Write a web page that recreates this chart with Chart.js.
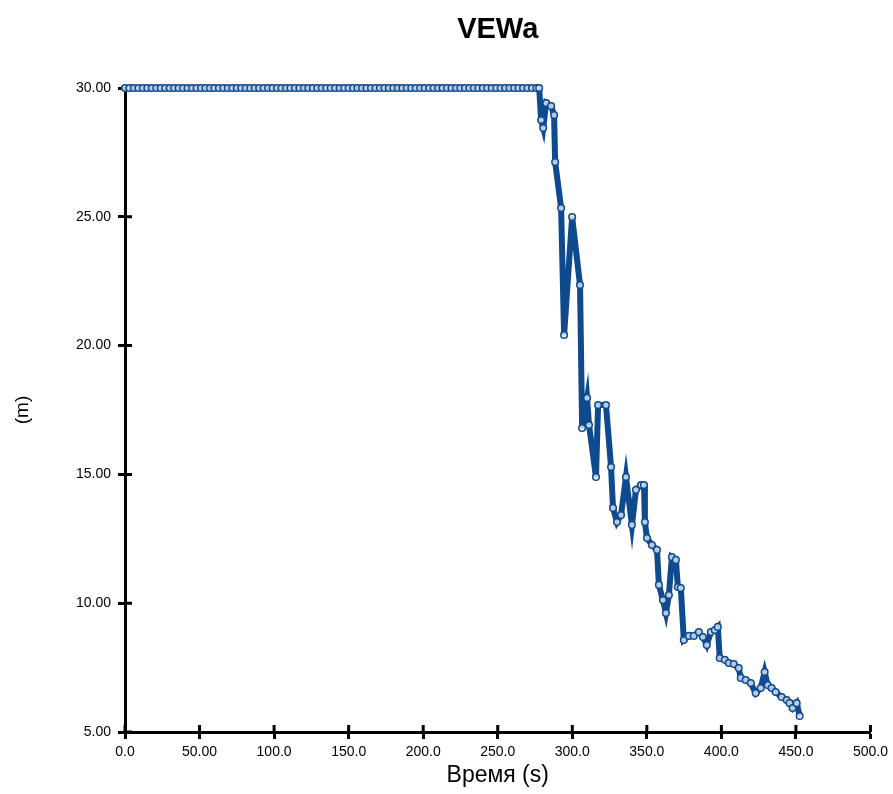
<!DOCTYPE html>
<html>
<head>
<meta charset="utf-8">
<script src="https://cdn.jsdelivr.net/npm/chart.js@4/dist/chart.umd.min.js"></script>
<style>
html,body{margin:0;padding:0;background:#fff;}
#wrap{width:893px;height:794px;}
</style>
</head>
<body>
<div id="wrap"><canvas id="c" width="893" height="794"></canvas></div>
<script>
// Time (s)
const times = [
  0,3,6,9,12,15,18,21,24,27,30,33,36,39,42,45,48,51,54,57,60,63,66,69,72,75,78,81,84,87,
  90,93,96,99,102,105,108,111,114,117,120,123,126,129,132,135,138,141,144,147,150,153,156,159,162,165,168,171,174,177,
  180,183,186,189,192,195,198,201,204,207,210,213,216,219,222,225,228,231,234,237,240,243,246,249,252,255,258,261,264,267,
  270,273,276,
  277.8,279.1,280.5,282.5,285.8,287.8,288.5,292.5,294.5,299.9,305.2,306.6,309.9,311.2,315.9,317.3,322.6,326.0,327.3,330.0,
  332.7,336.0,340.0,342.7,346.1,348.1,348.7,350.1,353.4,356.8,358.1,360.8,362.8,364.8,366.8,369.5,370.8,372.8,374.8,378.2,
  381.5,384.9,387.6,390.2,392.9,395.6,397.6,398.9,402.3,405.0,408.3,411.6,413.0,416.3,419.7,423.0,426.4,429.0,431.1,433.7,
  436.4,440.4,443.8,445.8,447.8,450.5,452.5
];
// Depth (m)
const depth = [
  30,30,30,30,30,30,30,30,30,30,30,30,30,30,30,30,30,30,30,30,30,30,30,30,30,30,30,30,30,30,
  30,30,30,30,30,30,30,30,30,30,30,30,30,30,30,30,30,30,30,30,30,30,30,30,30,30,30,30,30,30,
  30,30,30,30,30,30,30,30,30,30,30,30,30,30,30,30,30,30,30,30,30,30,30,30,30,30,30,30,30,30,
  30,30,30,
  30.0,28.76,28.45,29.42,29.30,28.95,27.13,25.34,20.41,24.99,22.35,16.80,17.97,16.92,14.90,17.69,17.69,15.29,13.70,13.15,
  13.42,14.9,13.04,14.4,14.59,14.59,13.15,12.53,12.26,12.07,10.71,10.12,9.62,10.32,11.79,11.68,10.63,10.59,8.57,8.73,
  8.73,8.88,8.69,8.38,8.88,8.96,9.08,7.87,7.80,7.68,7.64,7.48,7.10,7.02,6.90,6.51,6.71,7.33,6.82,6.71,
  6.55,6.36,6.24,6.12,5.93,6.12,5.62
];
const xTickLabels = ['0.0','50.00','100.0','150.0','200.0','250.0','300.0','350.0','400.0','450.0','500.0'];
const yTickLabels = ['5.00','10.00','15.00','20.00','25.00','30.00'];

const BLUE = '#0f4a8e';

const innerTicks = {
  id: 'innerTicks',
  beforeDatasetsDraw(chart) {
    const ctx = chart.ctx;
    const xs = chart.scales.x, ys = chart.scales.y;
    ctx.save();
    ctx.strokeStyle = '#000';
    ctx.lineWidth = 3;
    ctx.beginPath();
    xs.ticks.forEach(t => {
      const px = xs.getPixelForValue(t.value);
      ctx.moveTo(px, ys.bottom);
      ctx.lineTo(px, ys.bottom - 7);
    });
    ys.ticks.forEach(t => {
      const py = ys.getPixelForValue(t.value);
      ctx.moveTo(xs.left, py);
      ctx.lineTo(xs.left + 7, py);
    });
    ctx.stroke();
    ctx.restore();
  }
};

new Chart(document.getElementById('c'), {
  type: 'line',
  data: {
    datasets: [{
      data: times.map((t, i) => ({ x: t, y: depth[i] })),
      borderColor: BLUE,
      borderWidth: 6,
      borderJoinStyle: 'miter',
      tension: 0,
      pointRadius: 3.3,
      pointBorderWidth: 1.5,
      pointBorderColor: BLUE,
      pointBackgroundColor: 'rgba(225,235,248,0.8)',
      clip: false
    }]
  },
  options: {
    responsive: false,
    animation: false,
    layout: { padding: { left: 0, right: 21, top: 0, bottom: 0 } },
    plugins: {
      legend: { display: false },
      tooltip: { enabled: false },
      title: {
        display: true,
        fullSize: false,
        text: 'VEWa',
        color: '#000',
        font: { family: 'Liberation Sans', size: 29, weight: 'bold', lineHeight: 1.2 },
        padding: { top: 13, bottom: 40.2 }
      }
    },
    scales: {
      x: {
        type: 'linear',
        min: 0, max: 500,
        border: { display: true, color: '#000', width: 3 },
        grid: { display: true, drawOnChartArea: false, drawTicks: true, tickLength: 7, tickWidth: 3, tickColor: '#000', color: '#000' },
        ticks: {
          stepSize: 50,
          color: '#000',
          font: { family: 'Liberation Sans', size: 14 },
          padding: 5,
          maxRotation: 0,
          callback: (v, i) => xTickLabels[i]
        },
        title: {
          display: true,
          text: 'Время (s)',
          color: '#000',
          font: { family: 'Liberation Sans', size: 23, lineHeight: 1.2 },
          padding: { top: 0, bottom: 5 }
        },
        afterFit: s => { s.height = 62; }
      },
      y: {
        type: 'linear',
        min: 5, max: 30,
        border: { display: true, color: '#000', width: 3 },
        grid: { display: true, drawOnChartArea: false, drawTicks: true, tickLength: 7, tickWidth: 3, tickColor: '#000', color: '#000' },
        ticks: {
          stepSize: 5,
          color: '#000',
          font: { family: 'Liberation Sans', size: 14 },
          padding: 7,
          callback: (v, i) => yTickLabels[i]
        },
        title: {
          display: true,
          text: '(m)',
          color: '#000',
          font: { family: 'Liberation Sans', size: 19, lineHeight: 1.2 },
          padding: { top: 11, bottom: 0 }
        },
        afterFit: s => { s.width = 125; }
      }
    }
  },
  plugins: [innerTicks]
});
</script>
</body>
</html>
